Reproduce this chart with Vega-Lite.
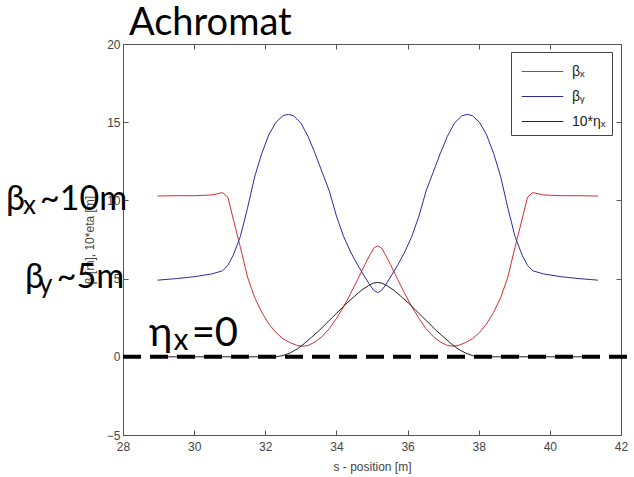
{
  "$schema": "https://vega.github.io/schema/vega-lite/v6.json",
  "width": 498,
  "height": 391,
  "autosize": "none",
  "padding": {"left": 123, "top": 44, "right": 13, "bottom": 42},
  "background": "white",
  "config": {
    "view": {"stroke": null},
    "font": "Liberation Sans",
    "axis": {
      "grid": false,
      "domainColor": "#555555",
      "tickColor": "#555555",
      "tickSize": -5,
      "labelPadding": 8,
      "labelColor": "#444444",
      "labelFont": "Liberation Sans",
      "labelFontSize": 12,
      "labelFlush": false,
      "labelOverlap": false,
      "titleFont": "Liberation Sans",
      "titleFontSize": 12,
      "titleFontWeight": "normal",
      "titleColor": "#444444"
    }
  },
  "title": {"text": "Achromat", "anchor": "start", "frame": "group", "font": "Lato", "fontSize": 38, "fontWeight": "normal", "color": "black", "offset": -5, "dx": 6},
  "datasets": {
    "curves": [
      {"s": 28.97, "v": 10.28, "k": "βₓ"}, {"s": 29.5, "v": 10.3, "k": "βₓ"}, {"s": 30.0, "v": 10.3, "k": "βₓ"}, {"s": 30.5, "v": 10.35, "k": "βₓ"}, {"s": 30.8, "v": 10.5, "k": "βₓ"}, {"s": 30.95, "v": 10.2, "k": "βₓ"}, {"s": 31.1, "v": 8.8, "k": "βₓ"}, {"s": 31.3, "v": 7.0, "k": "βₓ"}, {"s": 31.5, "v": 5.1, "k": "βₓ"}, {"s": 31.7, "v": 3.8, "k": "βₓ"}, {"s": 31.9, "v": 2.85, "k": "βₓ"}, {"s": 32.1, "v": 2.1, "k": "βₓ"}, {"s": 32.3, "v": 1.55, "k": "βₓ"}, {"s": 32.5, "v": 1.15, "k": "βₓ"}, {"s": 32.7, "v": 0.9, "k": "βₓ"}, {"s": 32.9, "v": 0.72, "k": "βₓ"}, {"s": 33.05, "v": 0.68, "k": "βₓ"}, {"s": 33.2, "v": 0.72, "k": "βₓ"}, {"s": 33.4, "v": 0.95, "k": "βₓ"}, {"s": 33.6, "v": 1.3, "k": "βₓ"}, {"s": 33.8, "v": 1.8, "k": "βₓ"}, {"s": 34.0, "v": 2.45, "k": "βₓ"}, {"s": 34.2, "v": 3.2, "k": "βₓ"}, {"s": 34.4, "v": 4.05, "k": "βₓ"}, {"s": 34.6, "v": 4.95, "k": "βₓ"}, {"s": 34.8, "v": 5.9, "k": "βₓ"}, {"s": 34.95, "v": 6.55, "k": "βₓ"}, {"s": 35.05, "v": 6.95, "k": "βₓ"}, {"s": 35.16, "v": 7.1, "k": "βₓ"}, {"s": 35.27, "v": 6.95, "k": "βₓ"}, {"s": 35.37, "v": 6.55, "k": "βₓ"}, {"s": 35.52, "v": 5.9, "k": "βₓ"}, {"s": 35.72, "v": 4.95, "k": "βₓ"}, {"s": 35.92, "v": 4.05, "k": "βₓ"}, {"s": 36.12, "v": 3.2, "k": "βₓ"}, {"s": 36.32, "v": 2.45, "k": "βₓ"}, {"s": 36.52, "v": 1.8, "k": "βₓ"}, {"s": 36.72, "v": 1.3, "k": "βₓ"}, {"s": 36.92, "v": 0.95, "k": "βₓ"}, {"s": 37.12, "v": 0.72, "k": "βₓ"}, {"s": 37.27, "v": 0.68, "k": "βₓ"}, {"s": 37.42, "v": 0.72, "k": "βₓ"}, {"s": 37.62, "v": 0.9, "k": "βₓ"}, {"s": 37.82, "v": 1.15, "k": "βₓ"}, {"s": 38.02, "v": 1.55, "k": "βₓ"}, {"s": 38.22, "v": 2.1, "k": "βₓ"}, {"s": 38.42, "v": 2.85, "k": "βₓ"}, {"s": 38.62, "v": 3.8, "k": "βₓ"}, {"s": 38.82, "v": 5.1, "k": "βₓ"}, {"s": 39.02, "v": 7.0, "k": "βₓ"}, {"s": 39.22, "v": 8.8, "k": "βₓ"}, {"s": 39.37, "v": 10.2, "k": "βₓ"}, {"s": 39.52, "v": 10.5, "k": "βₓ"}, {"s": 39.82, "v": 10.35, "k": "βₓ"}, {"s": 40.32, "v": 10.3, "k": "βₓ"}, {"s": 40.82, "v": 10.3, "k": "βₓ"}, {"s": 41.35, "v": 10.28, "k": "βₓ"},
      {"s": 28.97, "v": 4.9, "k": "βᵧ"}, {"s": 29.5, "v": 5.0, "k": "βᵧ"}, {"s": 30.0, "v": 5.12, "k": "βᵧ"}, {"s": 30.5, "v": 5.3, "k": "βᵧ"}, {"s": 30.8, "v": 5.5, "k": "βᵧ"}, {"s": 30.95, "v": 5.85, "k": "βᵧ"}, {"s": 31.1, "v": 6.5, "k": "βᵧ"}, {"s": 31.3, "v": 7.7, "k": "βᵧ"}, {"s": 31.5, "v": 9.5, "k": "βᵧ"}, {"s": 31.7, "v": 11.5, "k": "βᵧ"}, {"s": 31.9, "v": 13.0, "k": "βᵧ"}, {"s": 32.1, "v": 14.2, "k": "βᵧ"}, {"s": 32.3, "v": 15.0, "k": "βᵧ"}, {"s": 32.5, "v": 15.42, "k": "βᵧ"}, {"s": 32.65, "v": 15.5, "k": "βᵧ"}, {"s": 32.8, "v": 15.4, "k": "βᵧ"}, {"s": 33.0, "v": 14.95, "k": "βᵧ"}, {"s": 33.2, "v": 14.1, "k": "βᵧ"}, {"s": 33.4, "v": 13.0, "k": "βᵧ"}, {"s": 33.6, "v": 11.8, "k": "βᵧ"}, {"s": 33.8, "v": 10.6, "k": "βᵧ"}, {"s": 34.0, "v": 9.0, "k": "βᵧ"}, {"s": 34.2, "v": 7.7, "k": "βᵧ"}, {"s": 34.4, "v": 6.7, "k": "βᵧ"}, {"s": 34.6, "v": 5.85, "k": "βᵧ"}, {"s": 34.8, "v": 5.1, "k": "βᵧ"}, {"s": 34.95, "v": 4.55, "k": "βᵧ"}, {"s": 35.05, "v": 4.25, "k": "βᵧ"}, {"s": 35.16, "v": 4.1, "k": "βᵧ"}, {"s": 35.27, "v": 4.25, "k": "βᵧ"}, {"s": 35.37, "v": 4.55, "k": "βᵧ"}, {"s": 35.52, "v": 5.1, "k": "βᵧ"}, {"s": 35.72, "v": 5.85, "k": "βᵧ"}, {"s": 35.92, "v": 6.7, "k": "βᵧ"}, {"s": 36.12, "v": 7.7, "k": "βᵧ"}, {"s": 36.32, "v": 9.0, "k": "βᵧ"}, {"s": 36.52, "v": 10.6, "k": "βᵧ"}, {"s": 36.72, "v": 11.8, "k": "βᵧ"}, {"s": 36.92, "v": 13.0, "k": "βᵧ"}, {"s": 37.12, "v": 14.1, "k": "βᵧ"}, {"s": 37.32, "v": 14.95, "k": "βᵧ"}, {"s": 37.52, "v": 15.4, "k": "βᵧ"}, {"s": 37.67, "v": 15.5, "k": "βᵧ"}, {"s": 37.82, "v": 15.42, "k": "βᵧ"}, {"s": 38.02, "v": 15.0, "k": "βᵧ"}, {"s": 38.22, "v": 14.2, "k": "βᵧ"}, {"s": 38.42, "v": 13.0, "k": "βᵧ"}, {"s": 38.62, "v": 11.5, "k": "βᵧ"}, {"s": 38.82, "v": 9.5, "k": "βᵧ"}, {"s": 39.02, "v": 7.7, "k": "βᵧ"}, {"s": 39.22, "v": 6.5, "k": "βᵧ"}, {"s": 39.37, "v": 5.85, "k": "βᵧ"}, {"s": 39.52, "v": 5.5, "k": "βᵧ"}, {"s": 39.82, "v": 5.3, "k": "βᵧ"}, {"s": 40.32, "v": 5.12, "k": "βᵧ"}, {"s": 40.82, "v": 5.0, "k": "βᵧ"}, {"s": 41.35, "v": 4.9, "k": "βᵧ"},
      {"s": 28.97, "v": 0, "k": "10*ηₓ"}, {"s": 32.3, "v": 0, "k": "10*ηₓ"}, {"s": 32.5, "v": 0.08, "k": "10*ηₓ"}, {"s": 32.7, "v": 0.25, "k": "10*ηₓ"}, {"s": 32.9, "v": 0.5, "k": "10*ηₓ"}, {"s": 33.1, "v": 0.85, "k": "10*ηₓ"}, {"s": 33.3, "v": 1.25, "k": "10*ηₓ"}, {"s": 33.5, "v": 1.65, "k": "10*ηₓ"}, {"s": 33.7, "v": 2.1, "k": "10*ηₓ"}, {"s": 33.9, "v": 2.55, "k": "10*ηₓ"}, {"s": 34.1, "v": 3.0, "k": "10*ηₓ"}, {"s": 34.3, "v": 3.45, "k": "10*ηₓ"}, {"s": 34.5, "v": 3.85, "k": "10*ηₓ"}, {"s": 34.7, "v": 4.25, "k": "10*ηₓ"}, {"s": 34.9, "v": 4.55, "k": "10*ηₓ"}, {"s": 35.05, "v": 4.72, "k": "10*ηₓ"}, {"s": 35.16, "v": 4.75, "k": "10*ηₓ"}, {"s": 35.27, "v": 4.72, "k": "10*ηₓ"}, {"s": 35.42, "v": 4.55, "k": "10*ηₓ"}, {"s": 35.62, "v": 4.25, "k": "10*ηₓ"}, {"s": 35.82, "v": 3.85, "k": "10*ηₓ"}, {"s": 36.02, "v": 3.45, "k": "10*ηₓ"}, {"s": 36.22, "v": 3.0, "k": "10*ηₓ"}, {"s": 36.42, "v": 2.55, "k": "10*ηₓ"}, {"s": 36.62, "v": 2.1, "k": "10*ηₓ"}, {"s": 36.82, "v": 1.65, "k": "10*ηₓ"}, {"s": 37.02, "v": 1.25, "k": "10*ηₓ"}, {"s": 37.22, "v": 0.85, "k": "10*ηₓ"}, {"s": 37.42, "v": 0.5, "k": "10*ηₓ"}, {"s": 37.62, "v": 0.25, "k": "10*ηₓ"}, {"s": 37.82, "v": 0.08, "k": "10*ηₓ"}, {"s": 38.02, "v": 0, "k": "10*ηₓ"}, {"s": 41.35, "v": 0, "k": "10*ηₓ"}
    ]
  },
  "layer": [
    {
      "data": {"name": "curves"},
      "mark": {"type": "line", "strokeWidth": 1},
      "encoding": {
        "x": {"field": "s", "type": "quantitative", "scale": {"domain": [28, 42], "nice": false, "zero": false},
              "axis": {"orient": "bottom", "values": [28, 30, 32, 34, 36, 38, 40, 42], "title": "s - position [m]", "labelPadding": 11, "titlePadding": 9}},
        "y": {"field": "v", "type": "quantitative", "scale": {"domain": [-5, 20], "nice": false, "zero": false},
              "axis": {"orient": "left", "values": [-5, 0, 5, 10, 15, 20], "title": "β [m], 10*eta [m]", "titlePadding": 10}},
        "color": {"field": "k", "type": "nominal",
                  "scale": {"domain": ["βₓ", "βᵧ", "10*ηₓ"], "range": ["#d03030", "#2c2c9c", "#202020"]},
                  "legend": {"title": null, "orient": "none", "legendX": 388, "legendY": 8, "strokeColor": "#444444", "fillColor": "white", "padding": 6,
                             "labelFont": "Liberation Sans", "labelFontSize": 14, "labelColor": "#222222",
                             "symbolType": "M-1.6,0L1.6,0", "symbolSize": 676, "symbolStrokeWidth": 1, "rowPadding": 4, "symbolOffset": 12, "labelOffset": 16}}
      }
    },
    {
      "data": {"values": [{"x0": 28, "x1": 42.4, "y0": 0}]},
      "mark": {"type": "rule", "strokeDash": [18, 9], "strokeWidth": 4, "color": "black"},
      "encoding": {
        "x": {"field": "x0", "type": "quantitative", "scale": {"domain": [28, 42], "nice": false, "zero": false},
              "axis": {"orient": "top", "values": [28, 30, 32, 34, 36, 38, 40, 42], "labels": false, "title": null}},
        "x2": {"field": "x1"},
        "y": {"field": "y0", "type": "quantitative", "scale": {"domain": [-5, 20], "nice": false, "zero": false},
              "axis": {"orient": "right", "values": [-5, 0, 5, 10, 15, 20], "labels": false, "title": null}}
      }
    },
    {
      "data": {"values": [
        {"tx": 24.71, "ty": 9.39, "t": "β"},
        {"tx": 25.67, "ty": 9.39, "t": "~10m"},
        {"tx": 25.245, "ty": 4.4, "t": "β"},
        {"tx": 26.14, "ty": 4.4, "t": "~5m"}
      ]},
      "mark": {"type": "text", "align": "left", "baseline": "alphabetic", "font": "Lato", "fontSize": 34, "color": "black"},
      "encoding": {
        "x": {"field": "tx", "type": "quantitative", "scale": {"domain": [28, 42], "nice": false, "zero": false}, "axis": null},
        "y": {"field": "ty", "type": "quantitative", "scale": {"domain": [-5, 20], "nice": false, "zero": false}, "axis": null},
        "text": {"field": "t"}
      }
    },
    {
      "data": {"values": [
        {"tx": 25.19, "ty": 9.13, "t": "x"},
        {"tx": 25.64, "ty": 4.1, "t": "y"}
      ]},
      "mark": {"type": "text", "align": "left", "baseline": "alphabetic", "font": "Lato", "fontSize": 26, "color": "black"},
      "encoding": {
        "x": {"field": "tx", "type": "quantitative", "scale": {"domain": [28, 42], "nice": false, "zero": false}, "axis": null},
        "y": {"field": "ty", "type": "quantitative", "scale": {"domain": [-5, 20], "nice": false, "zero": false}, "axis": null},
        "text": {"field": "t"}
      }
    },
    {
      "data": {"values": [
        {"tx": 28.73, "ty": 0.69, "t": "η"},
        {"tx": 29.93, "ty": 0.69, "t": "=0"}
      ]},
      "mark": {"type": "text", "align": "left", "baseline": "alphabetic", "font": "Lato", "fontSize": 40, "color": "black"},
      "encoding": {
        "x": {"field": "tx", "type": "quantitative", "scale": {"domain": [28, 42], "nice": false, "zero": false}, "axis": null},
        "y": {"field": "ty", "type": "quantitative", "scale": {"domain": [-5, 20], "nice": false, "zero": false}, "axis": null},
        "text": {"field": "t"}
      }
    },
    {
      "data": {"values": [
        {"tx": 29.42, "ty": 0.45, "t": "x"}
      ]},
      "mark": {"type": "text", "align": "left", "baseline": "alphabetic", "font": "Lato", "fontSize": 30, "color": "black"},
      "encoding": {
        "x": {"field": "tx", "type": "quantitative", "scale": {"domain": [28, 42], "nice": false, "zero": false}, "axis": null},
        "y": {"field": "ty", "type": "quantitative", "scale": {"domain": [-5, 20], "nice": false, "zero": false}, "axis": null},
        "text": {"field": "t"}
      }
    }
  ],
  "resolve": {"axis": {"x": "independent", "y": "independent"}}
}
